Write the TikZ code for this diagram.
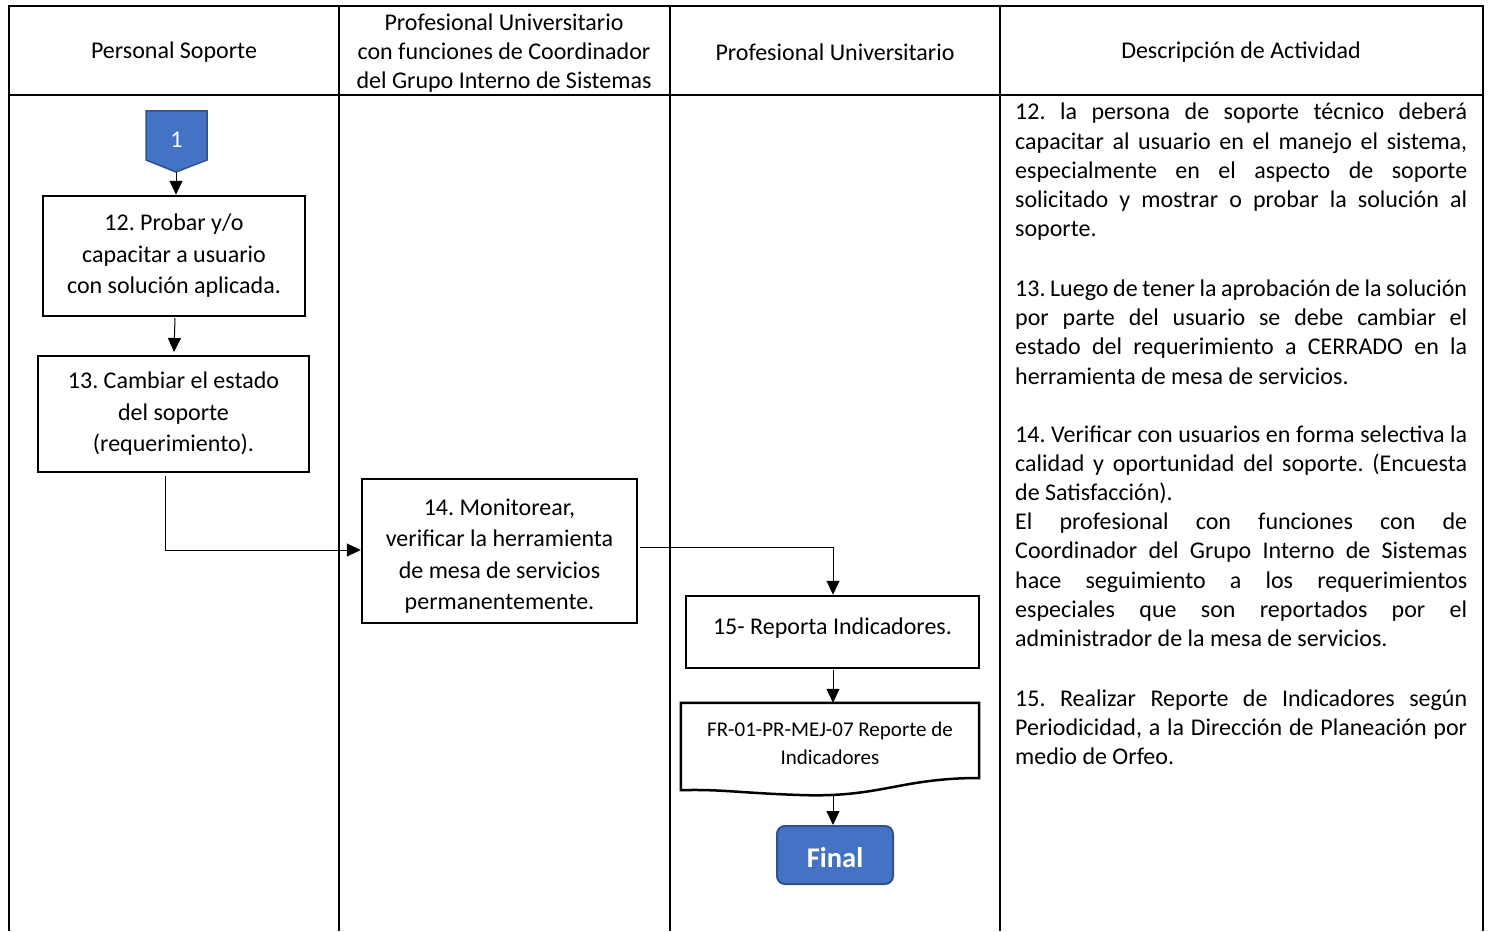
\documentclass[tikz,border=0pt]{standalone}
\usepackage{fontspec}
\setmainfont{Carlito}
\usetikzlibrary{arrows.meta}
\definecolor{fblue}{HTML}{4472C4}
\definecolor{dblue}{HTML}{2F528F}
\newcommand{\jl}[1]{\makebox[452pt][s]{#1}}
\begin{document}
\frenchspacing
\begin{tikzpicture}[x=1pt,y=-1pt,
  grid/.style={line width=2pt},
  stepbox/.style={draw,line width=2.5pt,inner sep=0pt,align=center,font=\fontsize{24}{31.5}\selectfont},
  boxtext/.style={inner sep=0pt,align=center,font=\fontsize{24}{31.5}\selectfont},
  head/.style={align=center,inner sep=0pt,font=\fontsize{24}{29}\selectfont},
  desc/.style={anchor=base west,inner sep=0pt,font=\fontsize{24}{29}\selectfont},
  conn/.style={line width=1pt,-{Triangle[length=14pt,width=13pt]}}]
\useasboundingbox (0,0) rectangle (1490,931);
% table
\draw[grid] (9,931) -- (9,6) -- (1483,6) -- (1483,931);
\draw[grid] (9,95) -- (1483,95);
\draw[grid] (339,6) -- (339,931);
\draw[grid] (670,6) -- (670,931);
\draw[grid] (1000,6) -- (1000,931);
% headers
\node[head] (h1) at (174,52.5) {Personal Soporte};
\node[head] (h2) at (504,53) {Profesional Universitario\\con funciones de Coordinador\\del Grupo Interno de Sistemas};
\node[head] (h3) at (835,52) {Profesional Universitario};
\node[head] (h4) at (1241,52) {Descripción de Actividad};
% connector 1
\fill[fblue,draw=dblue,line width=1.5pt] (146,111) -- (207,111) -- (207,160) -- (176,172) -- (146,160) -- cycle;
\node[text=white,font=\fontsize{24}{28}\selectfont] (p1) at (176.5,140) {1};
\coordinate (p1tip) at (176,172);
% boxes
\node[stepbox,minimum width=262pt,minimum height=120pt] (b12) at (174,256) {12. Probar y/o\\capacitar a usuario\\con solución aplicada.};
\node[stepbox,minimum width=271pt,minimum height=116pt] (b13) at (173.5,414) {13. Cambiar el estado\\del soporte\\(requerimiento).};
\node[stepbox,minimum width=275pt,minimum height=144pt] (b14) at (499.5,551) {};
\node[boxtext] (t14) at (499.5,556) {14. Monitorear,\\verificar la herramienta\\de mesa de servicios\\permanentemente.};
\node[stepbox,minimum width=293pt,minimum height=72pt] (b15) at (832.5,632) {};
\node[boxtext] (t15) at (832.5,628) {15- Reporta Indicadores.};
% document
\node[inner sep=0pt,minimum width=298pt,minimum height=87pt] (doc) at (830,746.5) {};
\node[inner sep=0pt,align=center,font=\fontsize{21}{28}\selectfont] (tdoc) at (830,743.5) {FR-01-PR-MEJ-07 Reporte de\\Indicadores};
\draw[line width=2.5pt] (doc.south west) -- (doc.north west) -- (doc.north east) -- (979,778)
  .. controls (900,778) and (880,798) .. (800,795)
  .. controls (740,793) and (720,789) .. (doc.south west) -- cycle;
\coordinate (docb) at (833,795);
% final
\node[draw=dblue,fill=fblue,line width=2pt,rounded corners=8pt,minimum width=116pt,minimum height=58pt] (fin) at (835,855) {};
\node[inner sep=0pt,text=white,font=\bfseries\fontsize{28.5}{32}\selectfont] (tfin) at (835,858) {Final};
% connectors
\draw[conn] (p1tip) -- (b12.north -| p1tip);
\draw[conn] (175,318) -- (174,352);
\draw[conn] (165,476) -- (165,550) -- (b14.west |- 0,550);
\draw[conn] (640,547) -- (833,547) -- (b15.north -| 833,0);
\draw[conn] (833,670) -- (doc.north -| 833,0);
\draw[conn] (docb) -- (fin.north -| 833,0);
% description
\node[desc] (d1) at (1015,120) {\jl{12. la persona de soporte técnico deberá}};
\node[desc] (d2) at (1015,149) {\jl{capacitar al usuario en el manejo el sistema,}};
\node[desc] (d3) at (1015,178) {\jl{especialmente en el aspecto de soporte}};
\node[desc] (d4) at (1015,207) {\jl{solicitado y mostrar o probar la solución al}};
\node[desc] (d5) at (1015,236) {soporte.};
\node[desc] (d6) at (1015,296) {\jl{13. Luego de tener la aprobación de la solución}};
\node[desc] (d7) at (1015,325) {\jl{por parte del usuario se debe cambiar el}};
\node[desc] (d8) at (1015,354) {\jl{estado del requerimiento a CERRADO en la}};
\node[desc] (d9) at (1015,384) {herramienta de mesa de servicios.};
\node[desc] (d10) at (1015,442) {\jl{14. Verificar con usuarios en forma selectiva la}};
\node[desc] (d11) at (1015,471) {\jl{calidad y oportunidad del soporte. (Encuesta}};
\node[desc] (d12) at (1015,500) {de Satisfacción).};
\node[desc] (d13) at (1015,529) {\jl{El profesional con funciones con de}};
\node[desc] (d14) at (1015,558) {\jl{Coordinador del Grupo Interno de Sistemas}};
\node[desc] (d15) at (1015,588) {\jl{hace seguimiento a los requerimientos}};
\node[desc] (d16) at (1015,617) {\jl{especiales que son reportados por el}};
\node[desc] (d17) at (1015,646) {administrador de la mesa de servicios.};
\node[desc] (d18) at (1015,706) {\jl{15. Realizar Reporte de Indicadores según}};
\node[desc] (d19) at (1015,735) {\jl{Periodicidad, a la Dirección de Planeación por}};
\node[desc] (d20) at (1015,764) {medio de Orfeo.};
\end{tikzpicture}
\end{document}
